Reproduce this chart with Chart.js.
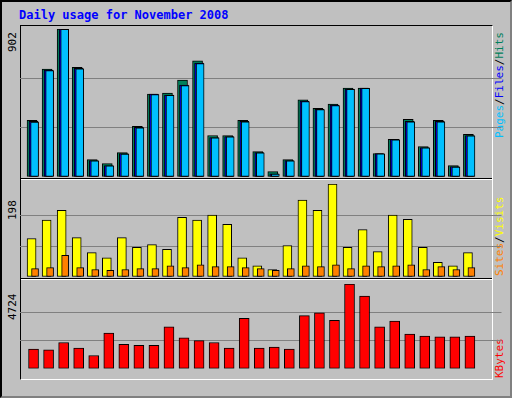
<!DOCTYPE html>
<html><head><meta charset="utf-8">
<script src="https://cdn.jsdelivr.net/npm/chart.js@4/dist/chart.umd.min.js"></script>
<style>
body{margin:0;background:#fff;}
#wrap{position:absolute;left:0;top:0;width:508px;height:394px;background:#C0C0C0;border:2px solid #000;border-right-color:#808080;border-bottom-color:#808080;overflow:hidden;}
canvas{position:absolute;left:0;}
.t{position:absolute;font-family:"DejaVu Sans Mono",monospace;font-size:11px;white-space:nowrap;}
.frame{position:absolute;left:18px;top:23px;width:471px;height:353px;border-left:1px solid #000;border-top:1px solid #000;border-right:1px solid #fff;border-bottom:1px solid #fff;}
.sep{position:absolute;left:19px;width:471px;height:0;border-top:1px solid #000;border-bottom:1px solid #fff;}
.rot{transform-origin:0 0;transform:rotate(-90deg);}
</style></head><body>
<div id="wrap">
<div class="t" style="left:17px;top:6px;color:#0000FF;font-weight:bold;font-size:12px;">Daily usage for November 2008</div>
<div class="frame"></div>
<div class="sep" style="top:176px"></div>
<div class="sep" style="top:276px"></div>
<div class="t rot" style="left:4px;top:50px;color:#000;">902</div>
<div class="t rot" style="left:4px;top:218px;color:#000;">198</div>
<div class="t rot" style="left:4px;top:318px;color:#000;">4724</div>
<div class="t rot" style="left:491px;top:136px;"><span style="color:#00C0FF">Pages</span><span style="color:#000">/</span><span style="color:#0000FF">Files</span><span style="color:#000">/</span><span style="color:#00805C">Hits</span></div>
<div class="t rot" style="left:491px;top:274px;"><span style="color:#FF8000">Sites</span><span style="color:#000">/</span><span style="color:#FFFF00">Visits</span></div>
<div class="t rot" style="left:491px;top:376px;"><span style="color:#FF0000">KBytes</span></div>
</div>
<canvas id="c1" width="512" height="148"></canvas><canvas id="c2" width="512" height="93"></canvas><canvas id="c3" width="512" height="114"></canvas>
<script>
const days=[1,2,3,4,5,6,7,8,9,10,11,12,13,14,15,16,17,18,19,20,21,22,23,24,25,26,27,28,29,30,31];
const weekend=[1,2,8,9,15,16,22,23,29,30];
const hits=[345,657,902,669,106,82,149,309,505,511,591,708,253,253,345,155,33,106,470,419,444,542,542,143,229,352,186,345,70,260,0];
const files=[339,651,902,663,100,70,143,303,505,499,560,695,241,247,339,149,20,100,462,413,438,536,542,143,229,339,180,339,63,253,0];
const pages=[335,648,900,660,98,68,140,300,503,497,557,692,239,245,337,147,18,98,460,411,436,534,540,141,227,337,178,337,61,251,0];
const visits=[82,121,142,84,52,41,84,63,69,59,127,121,132,112,41,24,16,67,164,142,198,63,101,54,132,123,63,31,24,52,0];
const sites=[18,20,46,20,16,14,16,18,18,24,20,26,22,22,20,18,14,18,24,22,26,18,24,22,24,26,16,22,16,20,0];
const kbytes=[1103,1052,1465,1155,741,1983,1362,1310,1310,2345,1724,1569,1465,1155,2810,1155,1207,1103,2965,3121,2707,4724,4052,2345,2655,1931,1828,1776,1776,1828,0];
const maxTop=902,maxMid=198,maxBot=4724;

function pts(arr){return days.map((d,i)=>({x:d,y:arr[i]}));}
function xAxis(shift,show){
  return {type:'linear',display:show,min:0.5-shift,max:31.5-shift,
    grid:{display:false},border:{display:false},
    ticks:{display:show,stepSize:1,autoSkip:false,maxRotation:0,padding:4,
      font:{family:'DejaVu Sans',size:11},
      color:c=>weekend.includes(c.tick.value)?'#00805C':'#000',
      callback:v=>(v>=1&&v<=31&&Math.abs(v-Math.round(v))<1e-6)?String(Math.round(v)):''}};
}
function yAxis(max){
  return {min:0,max:max,afterFit:s=>{s.width=0;},
    ticks:{display:false,stepSize:max/3},border:{display:false},
    grid:{drawTicks:false,color:c=>(c.tick.value>0&&c.tick.value<max-0.01)?'#808080':'rgba(0,0,0,0)',lineWidth:1}};
}
function ds(data,color,axis,thick,order){
  return {data:pts(data),backgroundColor:color,borderColor:'#000',borderWidth:1,borderSkipped:false,xAxisID:axis,barThickness:thick,grouped:false,order:order};
}
function build(id,top,datasets,scales){
  const cv=document.getElementById(id);
  cv.style.top=top+'px';
  new Chart(cv,{type:'bar',data:{datasets},
    options:{responsive:false,animation:false,events:[],devicePixelRatio:1,
      layout:{padding:{left:20,right:10.5,top:0,bottom:0}},
      plugins:{legend:{display:false},tooltip:{enabled:false}},scales}});
}
build('c1',29,[ds(hits,'#00805C','xh',10,3),ds(files,'#0000FF','xf',9,2),ds(pages,'#00C0FF','xp',8,1)],
  {xh:xAxis(-0.2,false),xf:xAxis(-0.1,false),xp:xAxis(-0.03,false),y:yAxis(maxTop)});
build('c2',184,[ds(visits,'#FFFF00','xv',9,2),ds(sites,'#FF8000','xs',7,1)],
  {xv:xAxis(-0.23,false),xs:xAxis(0.0,false),y:yAxis(maxMid)});
build('c3',284,[ds(kbytes,'#FF0000','xk',10,1)],
  {xk:xAxis(-0.1,false),xl:xAxis(0,true),y:yAxis(maxBot)});
</script></body></html>
